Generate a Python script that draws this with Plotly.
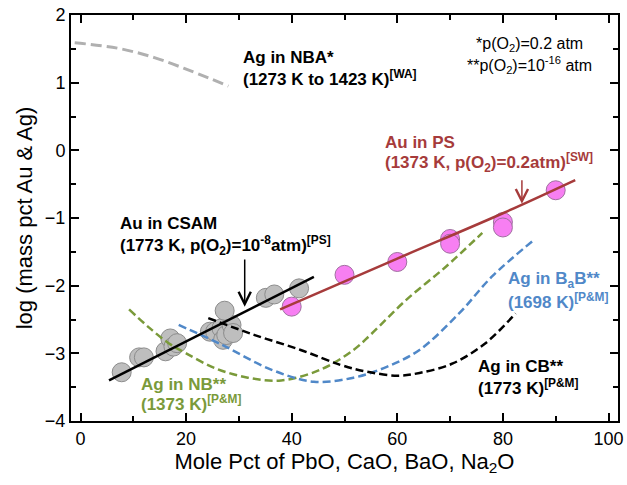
import plotly.graph_objects as go

# Au in CSAM (1773 K) measurements
csam_x = [7.8, 11.1, 12.0, 16.1, 17.0, 17.6, 18.3, 24.5, 25.5, 26.7, 27.0, 27.6, 28.6, 28.9, 27.3, 35.1, 36.7, 41.4]
csam_y = [-3.28, -3.06, -3.06, -2.97, -2.78, -2.90, -2.85, -2.68, -2.68, -2.63, -2.80, -2.73, -2.58, -2.70, -2.37, -2.18, -2.13, -2.04]
csam_fit_x = [5.4, 44.2]
csam_fit_y = [-3.40, -1.87]

# Au in PS (1373 K) measurements
ps_x = [40, 50, 60, 70, 70, 80, 80, 90]
ps_y = [-2.31, -1.84, -1.65, -1.31, -1.38, -1.06, -1.14, -0.59]
ps_fit_x = [37.8, 60.0, 80.0, 93.7]
ps_fit_y = [-2.35, -1.60, -0.93, -0.44]

# Ag solubility curves
nba_x = [-1.1, 7.0, 14.0, 21.0, 28.0]
nba_y = [1.59, 1.51, 1.37, 1.17, 0.95]

nb_x = [9.2, 13.0, 16.7, 20.0, 25.5, 31.7, 38.0, 45.5, 51.7, 55.0, 61.7, 69.2, 76.1]
nb_y = [-2.35, -2.62, -2.85, -3.00, -3.22, -3.36, -3.40, -3.24, -2.95, -2.72, -2.21, -1.72, -1.22]

bab_x = [18.6, 26.7, 36.1, 44.2, 51.7, 58.0, 64.2, 71.7, 78.0, 86.1]
bab_y = [-2.58, -2.87, -3.24, -3.42, -3.36, -3.20, -2.95, -2.41, -1.86, -1.31]

cb_x = [24.2, 33.0, 41.7, 49.2, 54.2, 60.0, 64.2, 70.5, 76.7, 82.4]
cb_y = [-2.48, -2.73, -2.95, -3.17, -3.27, -3.33, -3.29, -3.15, -2.85, -2.41]

RED = "#a63b3b"
GREEN = "#7a9a3a"
BLUE = "#5088c8"
FONT = "Liberation Sans, Arial, Helvetica, sans-serif"

fig = go.Figure()

fig.add_trace(go.Scatter(x=csam_x, y=csam_y, mode="markers",
                         marker=dict(size=19, color="#bebebe", line=dict(color="#8c8c8c", width=1))))
fig.add_trace(go.Scatter(x=ps_x, y=ps_y, mode="markers",
                         marker=dict(size=19, color="#f77ff2", line=dict(color="#a070a0", width=1))))

fig.add_trace(go.Scatter(x=nba_x, y=nba_y, mode="lines", line_shape="spline",
                         line=dict(color="#b0b0b0", width=3, dash="11px,5px")))
fig.add_trace(go.Scatter(x=nb_x, y=nb_y, mode="lines", line_shape="spline",
                         line=dict(color=GREEN, width=2.5, dash="8px,4px")))
fig.add_trace(go.Scatter(x=bab_x, y=bab_y, mode="lines", line_shape="spline",
                         line=dict(color=BLUE, width=2.5, dash="8px,4px")))
fig.add_trace(go.Scatter(x=cb_x, y=cb_y, mode="lines", line_shape="spline",
                         line=dict(color="black", width=2.5, dash="8px,4px")))

fig.add_trace(go.Scatter(x=csam_fit_x, y=csam_fit_y, mode="lines",
                         line=dict(color="black", width=2.5)))
fig.add_trace(go.Scatter(x=ps_fit_x, y=ps_fit_y, mode="lines", line_shape="spline",
                         line=dict(color=RED, width=2.5)))


def label(x, ys, lines, color="black", size=17, bold=True, xanchor="left"):
    # one annotation per line so that every line starts at the same x
    for y, text in zip(ys, lines):
        if bold:
            text = "<b>" + text + "</b>"
        fig.add_annotation(x=x, y=y, text=text, showarrow=False, xanchor=xanchor, yanchor="middle",
                           font=dict(family=FONT, size=size, color=color))


label(30.4, [1.367, 1.071], ["Ag in NBA*", "(1273 K to 1423 K)<sup>[WA]</sup>"])
label(85.0, [1.563, 1.267], ["*p(O<sub>2</sub>)=0.2 atm", "**p(O<sub>2</sub>)=10<sup>-16</sup> atm"],
      size=16, bold=False, xanchor="center")
label(57.2, [0.118, -0.185], ["Au in PS", "(1373 K, p(O<sub>2</sub>)=0.2atm)<sup>[SW]</sup>"], color=RED)
label(7.1, [-1.074, -1.41], ["Au in CSAM", "(1773 K, p(O<sub>2</sub>)=10<sup>-8</sup>atm)<sup>[PS]</sup>"])
label(11.1, [-3.466, -3.738], ["Ag in NB**", "(1373 K)<sup>[P&M]</sup>"], color=GREEN)
label(80.5, [-1.913, -2.224], ["Ag in B<sub>a</sub>B**", "(1698 K)<sup>[P&M]</sup>"], color=BLUE)
label(74.9, [-3.195, -3.491], ["Ag in CB**", "(1773 K)<sup>[P&M]</sup>"])

# pointer arrows
for (x0, y_tail, y_tip, col) in [(31.1, -1.59, -2.31, "black"), (83.6, -0.42, -0.79, RED)]:
    fig.add_annotation(x=x0, y=y_tip, ax=x0, ay=y_tail, axref="x", ayref="y", xref="x", yref="y",
                       text="", showarrow=True, arrowhead=5, arrowsize=1.6, arrowwidth=1.5,
                       arrowcolor=col)

axis_common = dict(showgrid=False, zeroline=False, showline=True, linecolor="black", linewidth=2,
                   mirror="allticks", ticks="inside", ticklen=8, tickwidth=1.5, tickcolor="black",
                   tickfont=dict(family=FONT, size=18, color="black"))

fig.update_xaxes(range=[-1.8, 101.8], tickvals=[0, 20, 40, 60, 80, 100],
                 minor=dict(tickvals=[10, 30, 50, 70, 90], ticks="inside", ticklen=5, tickwidth=1.5,
                            tickcolor="black"),
                 title=dict(text="Mole Pct of PbO, CaO, BaO, Na<sub>2</sub>O",
                            font=dict(family=FONT, size=22, color="black"), standoff=4),
                 **axis_common)
fig.update_yaxes(range=[-4, 2], tickvals=[-4, -3, -2, -1, 0, 1, 2],
                 minor=dict(tickvals=[-3.5, -2.5, -1.5, -0.5, 0.5, 1.5], ticks="inside", ticklen=5,
                            tickwidth=1.5, tickcolor="black"),
                 title=dict(text="log (mass pct Au & Ag)",
                            font=dict(family=FONT, size=22, color="black"), standoff=6),
                 **axis_common)

fig.update_layout(width=627, height=485, showlegend=False,
                  margin=dict(l=71, r=4, t=15, b=64, pad=0),
                  plot_bgcolor="white", paper_bgcolor="white")

fig.write_html("out.html")
